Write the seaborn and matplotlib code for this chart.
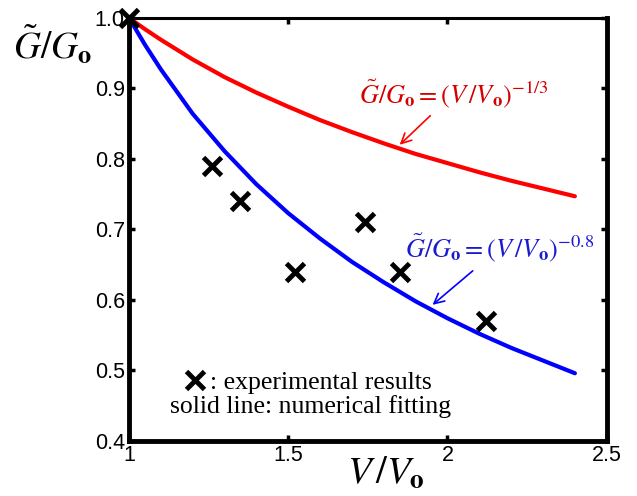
import numpy as np
import pandas as pd
import seaborn as sns
import matplotlib.pyplot as plt
from matplotlib.lines import Line2D

# values
v_ratio = [1.0, 1.05, 1.1, 1.2, 1.3, 1.4, 1.5, 1.6, 1.7, 1.8, 1.9, 2.0, 2.1, 2.2, 2.3, 2.4]
g_third = [1.000, 0.984, 0.969, 0.941, 0.916, 0.894, 0.874, 0.855, 0.838, 0.822, 0.807,
           0.794, 0.781, 0.769, 0.758, 0.747]
g_fit08 = [1.000, 0.962, 0.927, 0.864, 0.811, 0.764, 0.723, 0.687, 0.654, 0.625, 0.598,
           0.574, 0.552, 0.532, 0.514, 0.496]

exp_v = [1.0, 1.26, 1.35, 1.52, 1.74, 1.85, 2.12]
exp_g = [1.0, 0.79, 0.74, 0.64, 0.71, 0.64, 0.57]

x_ticks = [1, 1.5, 2, 2.5]
y_ticks = [0.4, 0.5, 0.6, 0.7, 0.8, 0.9, 1.0]

curves = pd.DataFrame({"v": v_ratio, "red": g_third, "blue": g_fit08})
points = pd.DataFrame({"v": exp_v, "g": exp_g})

sns.set_style("ticks")
plt.rcParams["font.family"] = ["Liberation Sans", "DejaVu Sans"]
plt.rcParams["mathtext.fontset"] = "stix"
plt.rcParams["axes.edgecolor"] = "black"
plt.rcParams["xtick.color"] = "black"
plt.rcParams["ytick.color"] = "black"
plt.rcParams["text.color"] = "black"
plt.rcParams["axes.labelcolor"] = "black"

fig = plt.figure(figsize=(6.37, 4.96), dpi=100)
ax = fig.add_axes([0.2025, 0.111, 0.75, 0.853])

sns.lineplot(data=curves, x="v", y="red", color="#ff0000", lw=3, ax=ax)
sns.lineplot(data=curves, x="v", y="blue", color="#0000ff", lw=3, ax=ax)
ax.plot(points["v"], points["g"], ls="none", marker="x", color="black",
        markersize=13, mew=3.5, clip_on=False, zorder=5)

ax.set_xlim(1, 2.5)
ax.set_ylim(0.4, 1.0)
ax.set_xticks(x_ticks)
ax.set_xticklabels(["1", "1.5", "2", "2.5"])
ax.set_yticks(y_ticks)
ax.set_yticklabels(["0.4", "0.5", "0.6", "0.7", "0.8", "0.9", "1.0"])
ax.tick_params(direction="in", length=4, width=2.5, labelsize=15.5, pad=3,
               top=True, right=True, colors="black")

for side in ["left", "bottom", "right"]:
    ax.spines[side].set_linewidth(3.5)
ax.spines["top"].set_linewidth(2.2)
for sp in ax.spines.values():
    sp.set_color("black")

ax.set_xlabel(r"$V\,/V_{\mathbf{o}}$", fontsize=28, va="center", ha="center")
ax.xaxis.set_label_coords(0.537, -0.075)
ax.set_ylabel(r"$\tilde{G}/G_{\mathbf{o}}$", fontsize=27, rotation=0,
              va="center", ha="center")
ax.yaxis.set_label_coords(-0.161, 0.935)

ax.annotate(r"$\tilde{G}/G_{\mathbf{o}}=\left(V\,/V_{\mathbf{o}}\right)^{-1/3}$",
            xy=(1.85, 0.82), xytext=(2.02, 0.893), color="#d40000", fontsize=19,
            ha="center", va="center",
            arrowprops=dict(arrowstyle="->", color="#ff0000", lw=1.2,
                            shrinkA=3, shrinkB=0, mutation_scale=18))
ax.annotate(r"$\tilde{G}/G_{\mathbf{o}}=\left(V\,/V_{\mathbf{o}}\right)^{-0.8}$",
            xy=(1.953, 0.593), xytext=(2.165, 0.674), color="#1a1ad0", fontsize=19,
            ha="center", va="center",
            arrowprops=dict(arrowstyle="->", color="#0000ff", lw=1.2,
                            shrinkA=4, shrinkB=0, mutation_scale=18))

key = Line2D([], [], ls="none", marker="x", color="black", markersize=13, mew=3.5)
leg = ax.legend([key], [": experimental results"], loc="center left",
                bbox_to_anchor=(0.06, 0.137), frameon=False, handlelength=1.1,
                handletextpad=0.05, prop={"family": "Liberation Serif", "size": 18.5})
ax.text(0.086, 0.082, "solid line: numerical fitting", transform=ax.transAxes,
        fontsize=18.5, family="Liberation Serif", va="center", ha="left")

fig.savefig("out.png", dpi=100)
